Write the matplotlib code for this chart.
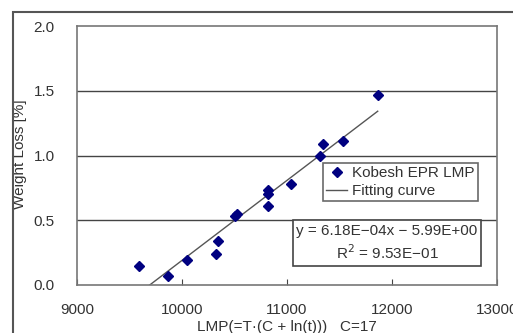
import numpy as np
import matplotlib.pyplot as plt
from matplotlib.patches import Rectangle

plt.rcParams['font.family'] = ['Liberation Sans', 'DejaVu Sans']

# Messdaten (LMP, Gewichtsverlust)
lmp = [9590, 9870, 10050, 10324, 10345, 10500, 10525, 10816, 10820, 10822, 11035, 11314, 11340, 11536, 11864]
weight_loss = [0.15, 0.07, 0.19, 0.24, 0.34, 0.53, 0.55, 0.70, 0.73, 0.61, 0.78, 1.00, 1.09, 1.11, 1.47]

# Regressionsgerade
slope = 6.18e-04
intercept = -5.99
x_tick_labels = ['9000', '10000', '11000', '12000', '13000']
y_tick_labels = ['0.0', '0.5', '1.0', '1.5', '2.0']

W, H = 513, 333
FS = 11
fig = plt.figure(figsize=(W / 100, H / 100), dpi=100)
ax = fig.add_axes([77 / W, 1 - 285 / H, (497 - 77) / W, (285 - 26) / H])

# aeusserer Rahmen
fig.patches.append(Rectangle((13 / W, -0.1), 1.2, 1 - 12 / H + 0.1, transform=fig.transFigure,
                             fill=False, edgecolor='#555555', linewidth=1.5))

xf = np.array([min(lmp), max(lmp)])
ax.plot(xf, slope * xf + intercept, color='#555555', linewidth=1, label='Fitting curve', zorder=2)
ax.plot(lmp, weight_loss, linestyle='none', marker='D', color='#000080', markersize=5,
        label='Kobesh EPR LMP', zorder=3)

ax.set_xlim(9000, 13000)
ax.set_ylim(0, 2.0)
ax.set_xticks([9000, 10000, 11000, 12000, 13000])
ax.set_xticklabels(x_tick_labels)
ax.set_yticks([0, 0.5, 1.0, 1.5, 2.0])
ax.set_yticklabels(y_tick_labels)
for yv in [0.5, 1.0, 1.5]:
    ax.axhline(yv, color='#444444', linewidth=1, zorder=1)
ax.tick_params(axis='x', direction='in', length=4, labelsize=FS, pad=13, color='#444444', labelcolor='#333333')
ax.tick_params(axis='y', length=0, labelsize=FS, pad=16, labelcolor='#333333')
for s in ax.spines.values():
    s.set_color('#777777')
    s.set_linewidth(1.2)

ax.set_xlabel('LMP(=T·(C + ln(t)))   C=17', fontsize=FS, color='#333333')
ax.xaxis.set_label_coords(0.5, -(320 - 285) / 259, transform=ax.transAxes)
ax.set_ylabel('Weight Loss [%]', fontsize=FS, color='#333333')
ax.yaxis.set_label_coords(-(77 - 27) / 420, (285 - 154) / 259, transform=ax.transAxes)

h, l = ax.get_legend_handles_labels()
leg = ax.legend(h[::-1], l[::-1], loc='upper left', bbox_to_anchor=((323 - 77) / 420, (285 - 163) / 259),
                fontsize=FS, frameon=True, fancybox=False, borderpad=0.2, handlelength=1.4,
                handletextpad=0.3, labelspacing=0.25, borderaxespad=0)
leg.get_frame().set_edgecolor('#444444')
leg.get_frame().set_linewidth(1.2)
for t in leg.get_texts():
    t.set_color('#333333')

ax.text((387 - 77) / 420, (285 - 243) / 259,
        'y = 6.18E\u221204x \u2212 5.99E+00\nR$^2$ = 9.53E\u221201', transform=ax.transAxes,
        fontsize=FS, ha='center', va='center', linespacing=1.3, color='#333333',
        bbox=dict(boxstyle='square,pad=0.25', facecolor='white', edgecolor='#444444', linewidth=1.2))

fig.savefig('out.png', dpi=100)
